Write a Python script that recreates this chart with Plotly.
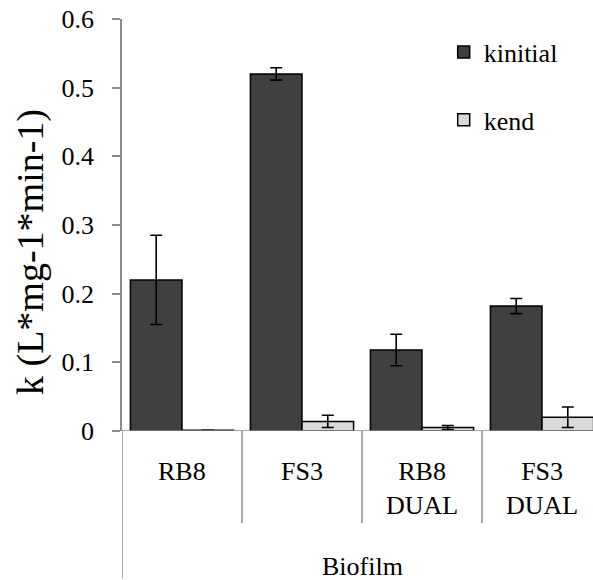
import plotly.graph_objects as go

# Rate constants per biofilm type
categories = ["RB8", "FS3", "RB8 DUAL", "FS3 DUAL"]
tick_labels = ["RB8", "FS3", "RB8<br>DUAL", "FS3<br>DUAL"]
k_initial = [0.220, 0.520, 0.118, 0.182]
k_initial_err = [0.065, 0.009, 0.023, 0.011]
k_end = [0.001, 0.014, 0.005, 0.020]
k_end_err = [0.0, 0.009, 0.003, 0.015]
y_ticks = [0, 0.1, 0.2, 0.3, 0.4, 0.5, 0.6]
y_tick_text = ["0", "0.1", "0.2", "0.3", "0.4", "0.5", "0.6"]
group_label = "Biofilm"
y_title = "k (L*mg-1*min-1)"

FONT = "Liberation Serif"
AXIS_GREY = "#8c8c8c"

W, H = 593, 580
M_L, M_R, M_T, M_B = 122, 0, 19, 149
plot_w = W - M_L - M_R
plot_h = H - M_T - M_B


def px_to_paper_y(px_below_axis):
    return -px_below_axis / plot_h


fig = go.Figure()
fig.add_trace(go.Bar(
    x=categories, y=k_initial, name="kinitial",
    marker=dict(color="#404040", line=dict(color="black", width=1.5)),
    error_y=dict(type="data", array=k_initial_err, color="black",
                 thickness=1.6, width=6),
    legendgroup="a",
))
fig.add_trace(go.Bar(
    x=categories, y=k_end, name="kend",
    marker=dict(color="#d9d9d9", line=dict(color="black", width=1.5)),
    error_y=dict(type="data", array=k_end_err, color="black",
                 thickness=1.6, width=6),
    legendgroup="b",
))

# Category labels under the axis
for cat, lab in zip(categories, tick_labels):
    fig.add_annotation(x=cat, y=px_to_paper_y(24), xref="x", yref="paper",
                       text=lab, showarrow=False, yanchor="top",
                       font=dict(family=FONT, size=26, color="#000000"))

fig.add_annotation(x=1.5, y=px_to_paper_y(135), xref="x", yref="paper",
                   text=group_label, showarrow=False, yanchor="middle",
                   font=dict(family=FONT, size=26, color="#000000"))

# Vertical axis title
fig.add_annotation(x=(30 - M_L) / plot_w, y=1 - (252 - M_T) / plot_h,
                   xref="paper", yref="paper", text=y_title, showarrow=False,
                   textangle=-90, xanchor="center", yanchor="middle",
                   font=dict(family=FONT, size=38, color="#000000"))

# Category dividers and the extended left boundary
for b in [0.5, 1.5, 2.5, 3.5]:
    fig.add_shape(type="line", x0=b, x1=b, xref="x", yref="paper",
                  y0=0, y1=px_to_paper_y(92),
                  line=dict(color=AXIS_GREY, width=1.5))
fig.add_shape(type="line", x0=-0.5, x1=-0.5, xref="x", yref="paper",
              y0=0, y1=px_to_paper_y(147),
              line=dict(color=AXIS_GREY, width=1.5))

fig.update_layout(
    width=W, height=H,
    margin=dict(l=M_L, r=M_R, t=M_T, b=M_B),
    paper_bgcolor="white", plot_bgcolor="white",
    barmode="group", bargap=0.14, bargroupgap=0,
    showlegend=True,
    legend=dict(x=0.683, y=0.977, xanchor="left", yanchor="top",
                font=dict(family=FONT, size=26, color="#000000"),
                tracegroupgap=31, bgcolor="rgba(0,0,0,0)",
                itemwidth=30),
    xaxis=dict(range=[-0.5, -0.5 + plot_w / 120.0],
               showticklabels=False, showline=False, showgrid=False,
               zeroline=False, ticks=""),
    yaxis=dict(range=[0, 0.6], tickvals=y_ticks, ticktext=y_tick_text,
               showline=True, linecolor=AXIS_GREY, linewidth=1.5,
               ticks="outside", ticklen=8, tickcolor=AXIS_GREY, tickwidth=1.5,
               ticklabelstandoff=13,
               showgrid=False, zeroline=False,
               tickfont=dict(family=FONT, size=26, color="#000000")),
)

# Baseline across the plot (axis at zero)
fig.add_shape(type="line", xref="paper", yref="y", x0=-9 / plot_w, x1=1,
              y0=0, y1=0, line=dict(color=AXIS_GREY, width=1.5))

fig.write_html("out.html")
